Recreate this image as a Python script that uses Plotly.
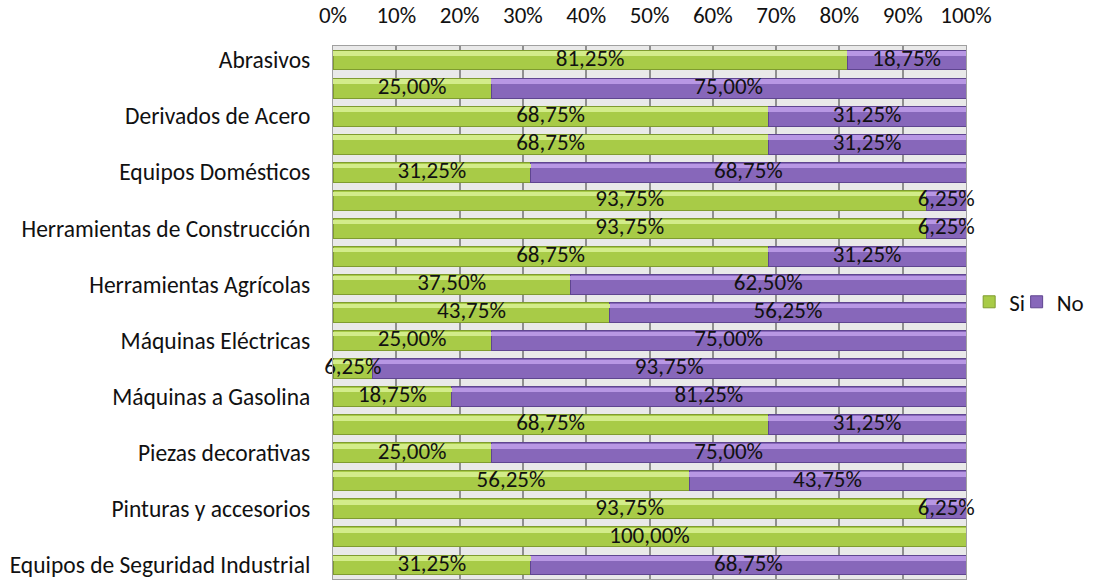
import plotly.graph_objects as go

# ---- data ----
row_labels = [
    "Abrasivos", "", "Derivados de Acero", "", "Equipos Domésticos", "",
    "Herramientas de Construcción", "", "Herramientas Agrícolas", "",
    "Máquinas Eléctricas", "", "Máquinas a Gasolina", "", "Piezas decorativas", "",
    "Pinturas y accesorios", "", "Equipos de Seguridad Industrial",
]
si_values = [81.25, 25.00, 68.75, 68.75, 31.25, 93.75, 93.75, 68.75, 37.50, 43.75,
             25.00, 6.25, 18.75, 68.75, 25.00, 56.25, 93.75, 100.00, 31.25]
no_values = [18.75, 75.00, 31.25, 31.25, 68.75, 6.25, 6.25, 31.25, 62.50, 56.25,
             75.00, 93.75, 81.25, 31.25, 75.00, 43.75, 6.25, 0.00, 68.75]
series_names = ["Si", "No"]
x_ticks = [0, 10, 20, 30, 40, 50, 60, 70, 80, 90, 100]

# ---- styling ----
FONT = "Carlito, Lato, sans-serif"
FS = 23
GREEN, GREEN_LINE, GREEN_HI = "#a8cb47", "#7f9c2f", "#d3ec8a"
PURPLE, PURPLE_LINE, PURPLE_HI = "#8767ba", "#5f4590", "#b897e4"

pos = list(range(len(si_values)))

def fmt(v):
    return f"{v:.2f}".replace(".", ",") + "%"

fig = go.Figure()

# main bars
fig.add_trace(go.Bar(y=pos, x=si_values, orientation="h", name=series_names[0],
                     marker=dict(color=GREEN, line=dict(color=GREEN_LINE, width=1)),
                     width=0.71, hoverinfo="skip", legend="legend"))
fig.add_trace(go.Bar(y=pos, x=no_values, orientation="h", name=series_names[1],
                     marker=dict(color=PURPLE, line=dict(color=PURPLE_LINE, width=1)),
                     width=0.71, hoverinfo="skip", legend="legend2"))

# highlight bands (top bevel) on overlay axis
fig.add_trace(go.Bar(y=pos, x=si_values, orientation="h", showlegend=False,
                     marker=dict(color=GREEN_HI, line=dict(width=0)),
                     width=0.16, offset=-0.31, yaxis="y2", hoverinfo="skip"))
fig.add_trace(go.Bar(y=pos, x=no_values, orientation="h", showlegend=False,
                     marker=dict(color=PURPLE_HI, line=dict(width=0)),
                     width=0.16, offset=-0.31, yaxis="y2", hoverinfo="skip"))

# data labels centered in segments
tx, ty, tt = [], [], []
for i, (s, n) in enumerate(zip(si_values, no_values)):
    if s > 0:
        tx.append(s / 2); ty.append(i); tt.append(fmt(s))
    if n > 0:
        tx.append(s + n / 2); ty.append(i); tt.append(fmt(n))
fig.add_trace(go.Scatter(x=tx, y=ty, mode="text", text=tt, showlegend=False,
                         textfont=dict(family=FONT, size=FS, color="#111111"),
                         textposition="middle center", cliponaxis=False,
                         yaxis="y2", hoverinfo="skip"))

n_rows = len(si_values)
yrange = [n_rows - 0.5, -0.5]
legend_common = dict(font=dict(family=FONT, size=FS), itemwidth=30,
                     bgcolor="rgba(0,0,0,0)", yanchor="middle", y=0.52,
                     xanchor="left")
fig.update_layout(
    width=1095, height=581,
    barmode="stack",
    paper_bgcolor="white",
    plot_bgcolor="#e9e9e9",
    margin=dict(l=333, r=129, t=46, b=2),
    font=dict(family=FONT, size=FS, color="#111111"),
    xaxis=dict(side="top", range=[0, 100], tickvals=x_ticks,
               ticktext=[f"{v}%" for v in x_ticks],
               showgrid=True, gridcolor="#8f8f8f", gridwidth=1.5,
               ticks="outside", ticklen=13, tickcolor="rgba(0,0,0,0)",
               showline=True, linecolor="#a0a0a0", mirror=True,
               zeroline=False, automargin=False),
    yaxis=dict(range=yrange, tickvals=pos[::2],
               ticktext=[row_labels[i] for i in pos[::2]],
               tickfont=dict(family=FONT, size=23.5),
               showgrid=False, zeroline=False,
               ticks="outside", ticklen=17, tickcolor="rgba(0,0,0,0)",
               showline=True, linecolor="#a0a0a0", mirror=True,
               automargin=False),
    yaxis2=dict(range=yrange, overlaying="y", visible=False),
    legend=dict(x=1.005, **legend_common),
    legend2=dict(x=1.08, **legend_common),
    bargap=0.29,
)

fig.write_html("out.html", config={"displayModeBar": False},
               post_script="document.body.style.margin='0';")
